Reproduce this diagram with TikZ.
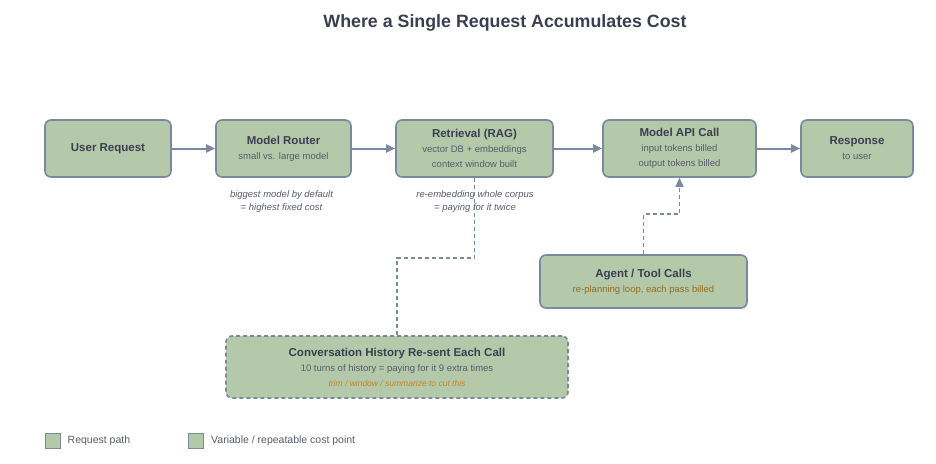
\documentclass[tikz,border=0pt]{standalone}
\usepackage{fontspec}
\setmainfont{Liberation Sans}
\usepackage{xcolor}
\usetikzlibrary{positioning}
\usetikzlibrary{arrows, arrows.meta}

\definecolor{sage}{RGB}{179,201,170}
\definecolor{slate}{RGB}{122,136,160}
\definecolor{ink}{RGB}{58,62,80}
\definecolor{note}{RGB}{88,92,104}
\definecolor{ochre}{RGB}{150,108,32}
\definecolor{amber}{RGB}{204,128,36}

\tikzset{
  stage/.style={draw=slate, line width=1.6pt, fill=sage, rounded corners=6pt,
    align=center, inner sep=0pt, text=ink, font=\fontsize{9.5}{15}\selectfont},
  flow/.style={draw=slate, line width=2pt, -{Triangle[length=9pt,width=8pt]}},
  costlink/.style={draw=slate, line width=1.5pt, dash pattern=on 4pt off 3pt},
  remark/.style={align=center, text=note, font=\fontsize{9.5}{13}\selectfont\itshape},
  swatch/.style={draw=slate, line width=1pt, fill=sage, minimum size=15pt, inner sep=0pt},
  keytext/.style={text=note, font=\fontsize{10.5}{12}\selectfont, inner sep=0pt}
}

\newcommand{\boxtitle}[1]{{\fontsize{11.5}{15}\selectfont\bfseries #1}}

\begin{document}
\begin{tikzpicture}[x=1pt, y=1pt]
  \useasboundingbox (0,0) rectangle (936,-463);

  \node[text=ink, font=\fontsize{17.8}{20}\selectfont\bfseries] (title) at (505,-23)
    {Where a Single Request Accumulates Cost};

  % request path
  \node[stage, minimum width=126pt, minimum height=57pt] (user) at (108,-148.5)
    {\boxtitle{User Request}};
  \node[stage, minimum width=135pt, minimum height=57pt] (router) at (283.5,-148.5)
    {\boxtitle{Model Router}\\ \textcolor{note}{small vs. large model}};
  \node[stage, minimum width=157pt, minimum height=57pt] (rag) at (474.5,-148.5)
    {\boxtitle{Retrieval (RAG)}\\ \textcolor{note}{vector DB + embeddings}\\ \textcolor{note}{context window built}};
  \node[stage, minimum width=153pt, minimum height=57pt] (api) at (679.5,-148.5)
    {\boxtitle{Model API Call}\\ \textcolor{note}{input tokens billed}\\ \textcolor{note}{output tokens billed}};
  \node[stage, minimum width=112pt, minimum height=57pt] (reply) at (857,-148.5)
    {\boxtitle{Response}\\ \textcolor{note}{to user}};

  \draw[flow] (user) -- (router);
  \draw[flow] (router) -- (rag);
  \draw[flow] (rag) -- (api);
  \draw[flow] (api) -- (reply);

  \node[remark] (routernote) at (281.5,-201.5) {biggest model by default\\ = highest fixed cost};
  \node[remark] (ragnote) at (475,-201.5) {re-embedding whole corpus\\ = paying for it twice};

  % cost points
  \node[stage, minimum width=207pt, minimum height=53pt] (agent) at (643.5,-281.5)
    {\boxtitle{Agent / Tool Calls}\\ \textcolor{ochre}{re-planning loop, each pass billed}};
  \node[stage, dash pattern=on 4pt off 3pt, minimum width=342pt, minimum height=62pt] (history) at (397,-367)
    {\boxtitle{Conversation History Re-sent Each Call}\\ \textcolor{note}{10 turns of history = paying for it 9 extra times}\\
     {\fontsize{8.5}{15}\selectfont\itshape\color{amber} trim / window / summarize to cut this}};

  \draw[costlink] (rag.south) -- ++(0,-80) -| (history.north);
  \draw[costlink, -{Triangle[length=9pt,width=8pt]}] (agent.north) -- ++(0,40) -| (api.south);

  % legend
  \node[swatch] (keypath) at (52.5,-441) {};
  \node[keytext, right=7pt of keypath] (keypathtext) {Request path};
  \node[swatch] (keycost) at (196,-441) {};
  \node[keytext, right=7pt of keycost] (keycosttext) {Variable / repeatable cost point};
\end{tikzpicture}
\end{document}
